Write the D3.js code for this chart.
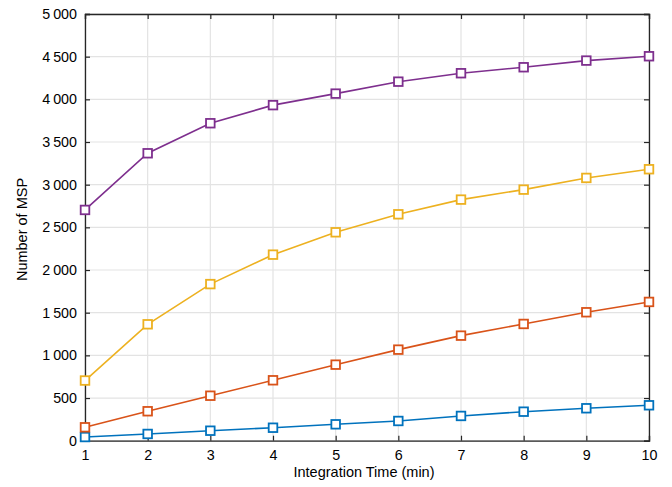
<!DOCTYPE html>
<html><head><meta charset="utf-8">
<script src="https://cdn.jsdelivr.net/npm/d3@7"></script>
<style>
html,body{margin:0;padding:0;background:#fff;}
text{font-family:"Liberation Sans",Arial,Helvetica,sans-serif;}
</style></head>
<body><svg id="c" width="672" height="487"></svg>
<script>
const xValues = [1,2,3,4,5,6,7,8,9,10];
const seriesBlue   = [43, 79, 117, 152, 192, 231, 290, 340, 380, 415];
const seriesOrange = [157, 345, 527, 708, 891, 1067, 1231, 1368, 1505, 1626];
const seriesYellow = [705, 1364, 1835, 2180, 2442, 2653, 2825, 2942, 3079, 3181];
const seriesPurple = [2704, 3368, 3720, 3932, 4067, 4207, 4306, 4376, 4454, 4505];
const seriesColors = ["#0072BD", "#D95319", "#EDB120", "#7E2F8E"];
const yTicks = [0,500,1000,1500,2000,2500,3000,3500,4000,4500,5000];
const yTickLabels = ["0","500","1\u2009000","1\u2009500","2\u2009000","2\u2009500","3\u2009000","3\u2009500","4\u2009000","4\u2009500","5\u2009000"];
const xLabel = "Integration Time (min)";
const yLabel = "Number of MSP";

const series = [seriesBlue, seriesOrange, seriesYellow, seriesPurple];
const svg = d3.select("#c");
const L = 85, R = 649, T = 14, B = 440.7;
const x = d3.scaleLinear().domain([1,10]).range([L,R]);
const y = d3.scaleLinear().domain([0,5000]).range([B,T]);

// grid
const g = svg.append("g");
g.selectAll("line.vx").data(xValues).enter().append("line")
  .attr("x1", d=>x(d)).attr("x2", d=>x(d)).attr("y1", T).attr("y2", B)
  .attr("stroke", "#e3e3e3").attr("stroke-width", 1.2);
g.selectAll("line.hy").data(yTicks).enter().append("line")
  .attr("y1", d=>y(d)).attr("y2", d=>y(d)).attr("x1", L).attr("x2", R)
  .attr("stroke", "#e3e3e3").attr("stroke-width", 1.2);

// axes
const xAxis = d3.axisBottom(x).tickValues(xValues).tickSize(-5).tickPadding(9).tickFormat(d3.format("d"));
const yAxis = d3.axisLeft(y).tickValues(yTicks).tickSize(-5).tickPadding(8).tickFormat((d,i)=>yTickLabels[i]);
const xTop = d3.axisTop(x).tickValues(xValues).tickSize(-5).tickFormat("");
const yRight = d3.axisRight(y).tickValues(yTicks).tickSize(-5).tickFormat("");

function style(sel){
  sel.selectAll("path.domain").attr("stroke","#262626").attr("stroke-width",1.3);
  sel.selectAll(".tick line").attr("stroke","#262626").attr("stroke-width",1.2);
  sel.selectAll(".tick text").attr("fill","#000").style("font-size","14.3px")
     .style("font-family",'"Liberation Sans",Arial,Helvetica,sans-serif');
}
svg.append("g").attr("transform",`translate(0,${T})`).call(xTop).call(style);
svg.append("g").attr("transform",`translate(${R},0)`).call(yRight).call(style);
svg.append("g").attr("transform",`translate(0,${B})`).call(xAxis).call(style);
svg.append("g").attr("transform",`translate(${L},0)`).call(yAxis).call(style);

// lines & markers
const line = d3.line().x((d,i)=>x(xValues[i])).y(d=>y(d));
series.forEach((s,k)=>{
  svg.append("path").datum(s).attr("d", line).attr("fill","none")
    .attr("stroke", seriesColors[k]).attr("stroke-width", 1.6);
  svg.append("g").selectAll("rect").data(s).enter().append("rect")
    .attr("x",(d,i)=>x(xValues[i])-4.3).attr("y",d=>y(d)-4.3)
    .attr("width",8.6).attr("height",8.6)
    .attr("fill","#fff").attr("stroke",seriesColors[k]).attr("stroke-width",1.8);
});

// labels
svg.append("text").attr("x",364).attr("y",477).attr("text-anchor","middle")
  .style("font-size","14.5px").attr("fill","#000").text(xLabel);
svg.append("text").attr("transform",`translate(27,229.5) rotate(-90)`)
  .attr("text-anchor","middle").style("font-size","14.5px").attr("fill","#000").text(yLabel);
</script></body></html>
